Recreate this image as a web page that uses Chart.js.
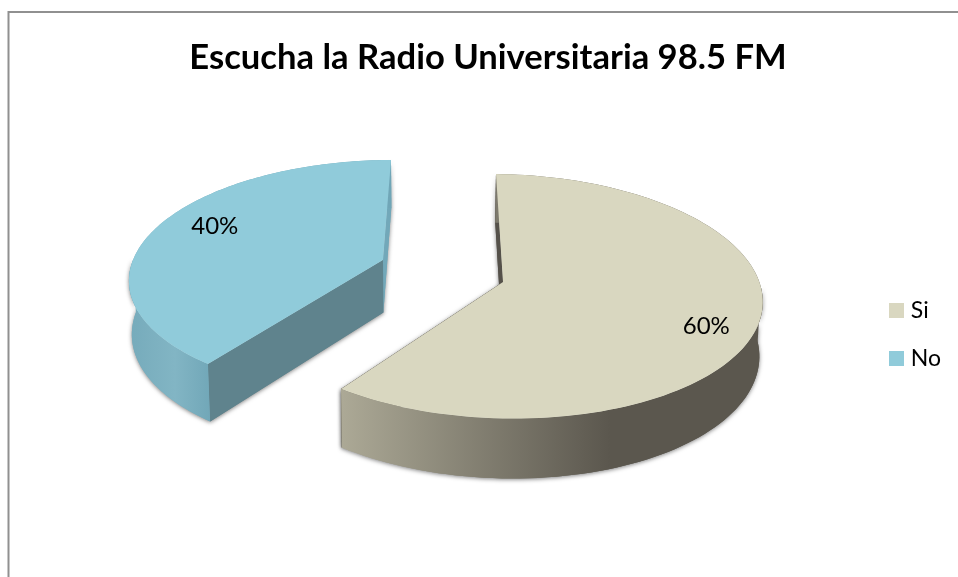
<!DOCTYPE html>
<html>
<head>
<meta charset="utf-8">
<style>html,body{margin:0;padding:0;background:#fff;overflow:hidden}canvas{display:block}</style>
<script src="https://cdn.jsdelivr.net/npm/chart.js@4/dist/chart.umd.min.js"></script>
</head>
<body>
<div style="width:958px;height:577px"><canvas id="c" width="958" height="577"></canvas></div>
<script>
const titleText = 'Escucha la Radio Universitaria 98.5 FM';
const categories = ['Si', 'No'];
const values = [60, 40];
const sliceColors = ['#d9d7c0', '#90cbda'];

function solve(A, b) {
  const n = b.length, M = A.map((r, i) => r.concat(b[i]));
  for (let i = 0; i < n; i++) {
    let p = i;
    for (let k = i + 1; k < n; k++) if (Math.abs(M[k][i]) > Math.abs(M[p][i])) p = k;
    [M[i], M[p]] = [M[p], M[i]];
    for (let k = 0; k < n; k++) {
      if (k === i) continue;
      const f = M[k][i] / M[i][i];
      for (let j = i; j <= n; j++) M[k][j] -= f * M[i][j];
    }
  }
  return M.map((r, i) => r[n] / r[i]);
}
function homography(src, dst) {
  const A = [], b = [];
  src.forEach((s, i) => {
    const [u, v] = s, [x, y] = dst[i];
    A.push([u, v, 1, 0, 0, 0, -u * x, -v * x]); b.push(x);
    A.push([0, 0, 0, u, v, 1, -u * y, -v * y]); b.push(y);
  });
  const h = solve(A, b);
  return (u, v) => {
    const w = h[6] * u + h[7] * v + 1;
    return [(h[0] * u + h[1] * v + h[2]) / w, (h[3] * u + h[4] * v + h[5]) / w];
  };
}
const endU = Math.sin(216 * Math.PI / 180), endV = -Math.cos(216 * Math.PI / 180);
const views = [
  { map: homography([[0,0],[0,-1],[endU,endV],[1,0]], [[503,282],[496,174],[341,389],[760,284]]),
    label: 0.76, nudge: [10, 14], wallStops: [[341,'#aca996'],[610,'#5b574e']], startFace: '#55514a', endFace: '#55514a' },
  { map: homography([[0,0],[0,-1],[endU,endV],[-1,0]], [[383,260],[391,160],[208,364],[133,260]]),
    label: 0.66, nudge: [-17, -11], wallStops: [[130,'#76abbb'],[175,'#82b5c4'],[213,'#70a6b7']], startFace: '#5f838d', endFace: '#72a8b9' }
];
const bottomOf = ([x, y]) => [420 + (x - 420) * 0.99, y + 48 + (y - 160) / 260 * 12];

const pie3d = {
  id: 'pie3d',
  beforeDraw(chart) {
    const ctx = chart.ctx;
    ctx.save();
    ctx.fillStyle = '#fff';
    ctx.fillRect(0, 0, chart.width, chart.height);
    ctx.strokeStyle = '#909090';
    ctx.lineWidth = 2;
    ctx.beginPath();
    ctx.moveTo(8.5, chart.height);
    ctx.lineTo(8.5, 12);
    ctx.lineTo(chart.width, 12);
    ctx.stroke();
    ctx.restore();
  },
  beforeDatasetsDraw(chart) {
    const ctx = chart.ctx, arcs = chart.getDatasetMeta(0).data;
    const poly = pts => {
      ctx.beginPath();
      pts.forEach((p, i) => i ? ctx.lineTo(p[0], p[1]) : ctx.moveTo(p[0], p[1]));
      ctx.closePath();
    };
    [1, 0].forEach(i => {
      const a = arcs[i], view = views[i], rim = [], frontRim = [];
      const steps = 120;
      for (let s = 0; s <= steps; s++) {
        const t = a.startAngle + (a.endAngle - a.startAngle) * s / steps;
        const p = view.map(Math.cos(t), Math.sin(t));
        rim.push(p);
        if (Math.sin(t) >= 0) frontRim.push(p);
      }
      const apex = view.map(0, 0), first = rim[0], last = rim[steps];
      const low = rim.map(bottomOf), lowApex = bottomOf(apex);
      const xs = view.wallStops.map(s => s[0]);
      const g = ctx.createLinearGradient(xs[0], 0, xs[xs.length - 1], 0);
      view.wallStops.forEach(s => g.addColorStop((s[0] - xs[0]) / (xs[xs.length - 1] - xs[0]), s[1]));

      ctx.save();
      ctx.shadowColor = 'rgba(0,0,0,0.5)';
      ctx.shadowBlur = 4;
      ctx.shadowOffsetY = 1;
      ctx.fillStyle = view.startFace;
      poly([apex, first, low[0], lowApex]);
      ctx.fill();
      ctx.fillStyle = view.endFace;
      poly([apex, last, low[steps], lowApex]);
      ctx.fill();
      ctx.fillStyle = g;
      poly(frontRim.concat(frontRim.map(bottomOf).reverse()));
      ctx.fill();
      ctx.restore();

      ctx.fillStyle = view.endFace;
      poly([apex, last, low[steps], lowApex]);
      ctx.fill();
      ctx.fillStyle = view.startFace;
      poly([apex, first, low[0], lowApex]);
      ctx.fill();
      ctx.fillStyle = g;
      poly(rim.concat(low.slice().reverse()));
      ctx.fill();

      ctx.fillStyle = a.options.backgroundColor;
      poly([apex].concat(rim));
      ctx.fill();
    });

    const total = values.reduce((s, v) => s + v, 0);
    ctx.save();
    ctx.fillStyle = '#000';
    ctx.font = '24px Lato';
    ctx.textAlign = 'center';
    ctx.textBaseline = 'middle';
    arcs.forEach((a, i) => {
      const t = (a.startAngle + a.endAngle) / 2, r = views[i].label;
      const p = views[i].map(Math.cos(t) * r, Math.sin(t) * r);
      ctx.fillText(Math.round(values[i] / total * 100) + '%', p[0] + views[i].nudge[0], p[1] + views[i].nudge[1]);
    });
    ctx.restore();
    return false;
  }
};

const swatches = sliceColors.map(col => {
  const c = document.createElement('canvas');
  c.width = 15; c.height = 15;
  const x = c.getContext('2d');
  x.fillStyle = col;
  x.fillRect(0, 0, 15, 15);
  return c;
});

new Chart(document.getElementById('c'), {
  type: 'pie',
  data: {
    labels: categories,
    datasets: [{ data: values, backgroundColor: sliceColors, borderWidth: 0 }]
  },
  options: {
    responsive: false,
    animation: false,
    layout: { padding: { left: 25, right: 7, top: 0, bottom: 0 } },
    plugins: {
      title: {
        display: true,
        text: titleText,
        color: '#000',
        font: { family: 'Lato', size: 34.6, weight: 'bold' },
        padding: { top: 37, bottom: 14 }
      },
      legend: {
        position: 'right',
        fullSize: false,
        labels: {
          color: '#000',
          font: { family: 'Lato', size: 23 },
          usePointStyle: true,
          pointStyleWidth: 5,
          padding: 25,
          generateLabels(chart) {
            return categories.map((text, i) => ({
              text, index: i, fillStyle: sliceColors[i], strokeStyle: sliceColors[i],
              lineWidth: 0, pointStyle: swatches[i], hidden: false
            }));
          }
        }
      },
      tooltip: { enabled: false }
    }
  },
  plugins: [pie3d]
});
</script>
</body>
</html>
